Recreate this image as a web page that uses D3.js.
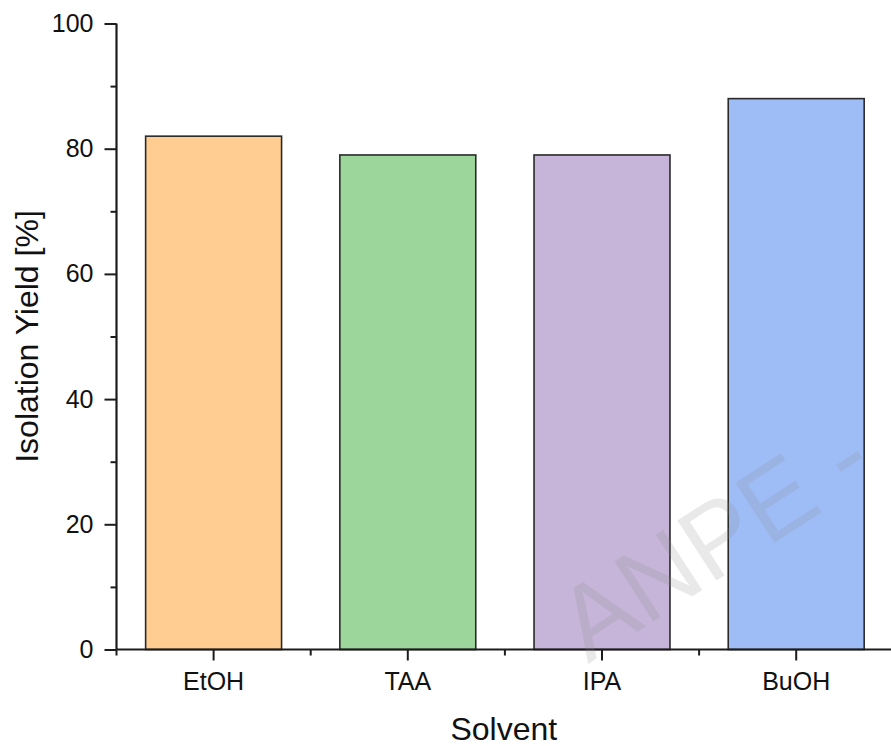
<!DOCTYPE html>
<html>
<head>
<meta charset="utf-8">
<script src="https://cdn.jsdelivr.net/npm/d3@7/dist/d3.min.js"></script>
<style>
  html, body { margin: 0; padding: 0; background: #fff; }
  svg { display: block; font-family: "Liberation Sans", Arial, sans-serif; }
</style>
</head>
<body>
<svg id="chart" width="891" height="746"></svg>
<script>
const categories = ["EtOH", "TAA", "IPA", "BuOH"];
const yields = [82, 79, 79, 88];
const barColors = ["#FFCD91", "#9DD69B", "#C6B5D8", "#9EBDF6"];
const yMajorTicks = [0, 20, 40, 60, 80, 100];
const yMinorTicks = [10, 30, 50, 70, 90];
const xTitle = "Solvent";
const yTitle = "Isolation Yield [%]";
const watermark = "ANPE -";

const svg = d3.select("#chart");
const W = 891, H = 746;
const x0 = 116.5, x1 = 893.3, yTop = 23.5, yBot = 649.5;
const axisColor = "#1c1c1c";

const x = d3.scaleBand().domain(categories).range([x0, x1]).paddingInner(0.3).paddingOuter(0.15);
const y = d3.scaleLinear().domain([0, 100]).range([yBot, yTop]);

// bars
svg.append("g").selectAll("rect").data(categories).join("rect")
  .attr("x", d => x(d))
  .attr("y", (d, i) => y(yields[i]))
  .attr("width", x.bandwidth())
  .attr("height", (d, i) => y(0) - y(yields[i]))
  .attr("fill", (d, i) => barColors[i])
  .attr("stroke", "#2a2a2a")
  .attr("stroke-width", 1.6);

// y axis major
const yAxis = svg.append("g").attr("transform", `translate(${x0},0)`)
  .call(d3.axisLeft(y).tickValues(yMajorTicks).tickFormat(d3.format("d")).tickSize(12).tickPadding(11));
yAxis.select(".domain").attr("d", `M0,${yTop}V${yBot}`);
// y minor
svg.append("g").attr("transform", `translate(${x0},0)`)
  .call(d3.axisLeft(y).tickValues(yMinorTicks).tickFormat("").tickSize(6))
  .select(".domain").remove();

// x axis: major ticks at centers
const step = x.step();
const xAxis = svg.append("g").attr("transform", `translate(0,${yBot})`)
  .call(d3.axisBottom(x).tickSize(11).tickPadding(12));
xAxis.select(".domain").attr("d", `M${x0},0H${W}`);
// x minor ticks at band boundaries
const bounds = categories.map(c => x(c) - x.paddingInner() * step / 2);
bounds.push(x(categories[categories.length - 1]) + x.bandwidth() + x.paddingInner() * step / 2);
svg.append("g").attr("transform", `translate(0,${yBot})`)
  .selectAll("line").data(bounds.filter(b => b <= W)).join("line")
  .attr("x1", d => d).attr("x2", d => d).attr("y1", 0).attr("y2", 6)
  .attr("stroke", axisColor).attr("stroke-width", 2);

svg.selectAll(".domain").attr("stroke", axisColor).attr("stroke-width", 2.2);
svg.selectAll(".tick line").attr("stroke", axisColor).attr("stroke-width", 2);
svg.selectAll(".tick text").attr("fill", "#111").style("font-size", "25px")
  .style("font-family", "'Liberation Sans', Arial, sans-serif");

// titles
svg.append("text")
  .attr("x", (x0 + W) / 2).attr("y", 739.5)
  .attr("text-anchor", "middle")
  .style("font-size", "32px").attr("fill", "#111")
  .text(xTitle);
svg.append("text")
  .attr("transform", `translate(38,${(yTop + yBot) / 2}) rotate(-90)`)
  .attr("text-anchor", "middle")
  .style("font-size", "32px").attr("fill", "#111")
  .text(yTitle);

// watermark
svg.append("text")
  .attr("transform", "translate(588,664) rotate(-33)")
  .style("font-size", "104px").attr("fill", "#8a8a8a").attr("opacity", 0.18)
  .text(watermark);
</script>
</body>
</html>
